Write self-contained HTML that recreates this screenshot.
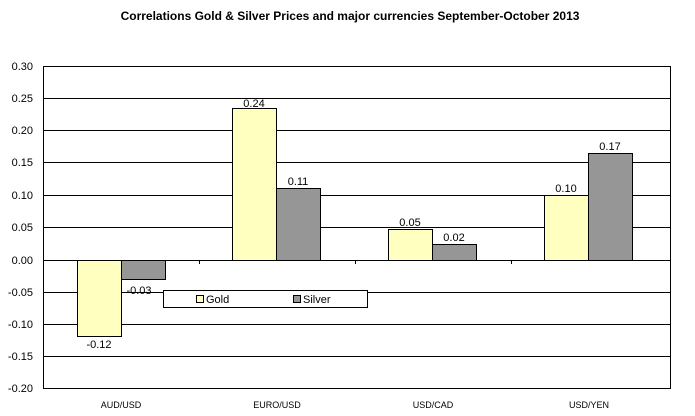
<!DOCTYPE html>
<html><head><style>body{margin:0;background:#fff}svg{display:block}text{font-family:"Liberation Sans",Arial,sans-serif}</style></head><body>
<svg width="695" height="416" xmlns="http://www.w3.org/2000/svg">
<rect width="695" height="416" fill="#fff"/>
<text x="350" y="20" font-size="12" font-weight="bold" text-anchor="middle">Correlations Gold &amp; Silver Prices and major currencies September-October 2013</text>
<g stroke="#000" stroke-width="1">
<line x1="43" y1="66.5" x2="670" y2="66.5"/>
<line x1="43" y1="98.5" x2="670" y2="98.5"/>
<line x1="43" y1="130.5" x2="670" y2="130.5"/>
<line x1="43" y1="162.5" x2="670" y2="162.5"/>
<line x1="43" y1="195.5" x2="670" y2="195.5"/>
<line x1="43" y1="227.5" x2="670" y2="227.5"/>
<line x1="43" y1="292.5" x2="670" y2="292.5"/>
<line x1="43" y1="324.5" x2="670" y2="324.5"/>
<line x1="43" y1="356.5" x2="670" y2="356.5"/>
<line x1="43" y1="388.5" x2="670" y2="388.5"/>
<line x1="43.5" y1="66" x2="43.5" y2="389"/>
<line x1="670.5" y1="66" x2="670.5" y2="389"/>
</g>
<g stroke="#000" stroke-width="1">
<rect x="77.5" y="260.5" width="44" height="76" fill="#ffffc0"/>
<rect x="121.5" y="260.5" width="44" height="19" fill="#969696"/>
<rect x="232.5" y="108.5" width="44" height="152" fill="#ffffc0"/>
<rect x="276.5" y="188.5" width="44" height="72" fill="#969696"/>
<rect x="388.5" y="229.5" width="44" height="31" fill="#ffffc0"/>
<rect x="432.5" y="244.5" width="44" height="16" fill="#969696"/>
<rect x="544.5" y="195.5" width="44" height="65" fill="#ffffc0"/>
<rect x="588.5" y="153.5" width="44" height="107" fill="#969696"/>
<line x1="43" y1="260.5" x2="670" y2="260.5"/>
<line x1="199.5" y1="260" x2="199.5" y2="264"/>
<line x1="355.5" y1="260" x2="355.5" y2="264"/>
<line x1="511.5" y1="260" x2="511.5" y2="264"/>
<rect x="163.5" y="290.5" width="204" height="17" fill="#fff"/>
<rect x="196.5" y="295.5" width="7" height="7" fill="#ffffc0"/>
<rect x="293.5" y="295.5" width="7" height="7" fill="#969696"/>
</g>
<g font-size="11">
<text x="206" y="303">Gold</text>
<text x="303" y="303">Silver</text>
</g>
<g font-size="11" text-anchor="end">
<text x="33" y="70">0.30</text><text x="33" y="102">0.25</text><text x="33" y="134">0.20</text>
<text x="33" y="166">0.15</text><text x="33" y="199">0.10</text><text x="33" y="231">0.05</text>
<text x="33" y="264">0.00</text><text x="33" y="296">-0.05</text><text x="33" y="328">-0.10</text>
<text x="33" y="360">-0.15</text><text x="33" y="392">-0.20</text>
</g>
<g font-size="11" text-anchor="middle">
<text x="99" y="348">-0.12</text><text x="139" y="294">-0.03</text>
<text x="254" y="107">0.24</text><text x="298" y="185">0.11</text>
<text x="410" y="226">0.05</text><text x="454" y="241">0.02</text>
<text x="566" y="192">0.10</text><text x="610" y="150">0.17</text>
</g>
<g font-size="9" text-anchor="middle">
<text x="121" y="408">AUD/USD</text><text x="277" y="408">EURO/USD</text>
<text x="433" y="408">USD/CAD</text><text x="589" y="408">USD/YEN</text>
</g>
</svg>
</body></html>
